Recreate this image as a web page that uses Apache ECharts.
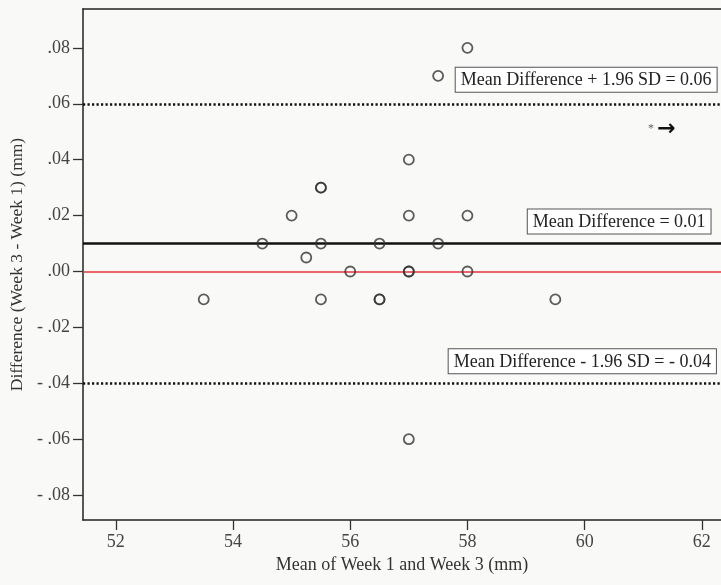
<!DOCTYPE html>
<html>
<head>
<meta charset="utf-8">
<script src="https://cdn.jsdelivr.net/npm/echarts@6/dist/echarts.min.js"></script>
<style>
  html, body { margin: 0; padding: 0; background: #f9f9f8; }
  #chart { width: 721px; height: 585px; }
</style>
</head>
<body>
<div id="chart"></div>
<script>
// Bland-Altman agreement: mean of the two weeks vs. their difference (mm)
const meanOfWeeks = [58, 57.5, 57, 55.5, 55.5, 55, 57, 58, 54.5, 55.5, 56.5, 57.5, 55.25, 56, 57, 57, 58, 53.5, 55.5, 56.5, 56.5, 59.5, 57];
const differences = [0.08, 0.07, 0.04, 0.03, 0.03, 0.02, 0.02, 0.02, 0.01, 0.01, 0.01, 0.01, 0.005, 0, 0, 0, 0, -0.01, -0.01, -0.01, -0.01, -0.01, -0.06];

const meanDifference = 0.01;
const upperLimit = 0.06;
const lowerLimit = -0.04;
const zeroLine = 0;

const xTicks = [52, 54, 56, 58, 60, 62];
const yTicks = [-0.08, -0.06, -0.04, -0.02, 0, 0.02, 0.04, 0.06, 0.08];

const upperText = 'Mean Difference + 1.96 SD = 0.06';
const meanText = 'Mean Difference = 0.01';
const lowerText = 'Mean Difference - 1.96 SD = - 0.04';

const serif = '"Liberation Serif", "DejaVu Serif", serif';
const points = meanOfWeeks.map((m, i) => [m, differences[i]]);

// x range runs past the last tick; the plot is open on the right
const xMin = 51.44, xMax = 62.327;

function yLabel(v) {
  const s = Math.abs(v).toFixed(2).replace(/^0/, '');
  return v < 0 ? '- ' + s : s;
}

const boxLabel = {
  show: true,
  position: [0, 0],
  align: 'left',
  verticalAlign: 'bottom',
  fontFamily: serif,
  fontSize: 18,
  lineHeight: 19,
  color: '#222',
  backgroundColor: '#ffffff',
  borderColor: '#555',
  borderWidth: 1,
  padding: [3, 5, 2, 5]
};

const chart = echarts.init(document.getElementById('chart'));
chart.setOption({
  backgroundColor: '#f9f9f8',
  animation: false,
  grid: { left: 83, top: 9, right: 0, bottom: 65, show: false },
  xAxis: [
    {
      type: 'value',
      min: xMin, max: xMax,
      name: 'Mean of Week 1 and Week 3 (mm)',
      nameLocation: 'middle', nameGap: 35,
      nameTextStyle: { fontFamily: serif, fontSize: 18, color: '#333' },
      axisLine: { show: true, onZero: false, lineStyle: { color: '#222', width: 1.5 } },
      axisTick: { show: true, length: 10, customValues: xTicks, lineStyle: { color: '#333', width: 1.3 } },
      axisLabel: { customValues: xTicks, margin: 13, fontFamily: serif, fontSize: 18, color: '#444' },
      splitLine: { show: false }
    },
    {
      // top frame edge
      type: 'value',
      position: 'top',
      min: xMin, max: xMax,
      axisLine: { show: true, onZero: false, lineStyle: { color: '#222', width: 1.5 } },
      axisTick: { show: false },
      axisLabel: { show: false },
      splitLine: { show: false }
    }
  ],
  yAxis: {
    type: 'value',
    min: -0.0889, max: 0.0939,
    name: 'Difference (Week 3 - Week 1) (mm)',
    nameLocation: 'middle', nameGap: 57, nameRotate: 90,
    nameTextStyle: { fontFamily: serif, fontSize: 17.5, color: '#333' },
    axisLine: { show: true, onZero: false, lineStyle: { color: '#222', width: 1.5 } },
    axisTick: { show: true, length: 10, customValues: yTicks, lineStyle: { color: '#333', width: 1.3 } },
    axisLabel: { customValues: yTicks, margin: 13, fontFamily: serif, fontSize: 18, color: '#444', formatter: yLabel },
    splitLine: { show: false }
  },
  series: [
    {
      name: 'reference lines',
      type: 'scatter',
      data: [],
      silent: true,
      markLine: {
        silent: true,
        symbol: 'none',
        label: { show: false },
        data: [
          { yAxis: zeroLine, lineStyle: { color: '#e5323e', width: 1.6, type: 'solid' } },
          { yAxis: meanDifference, lineStyle: { color: '#111', width: 2.6, type: 'solid' } },
          { yAxis: upperLimit, lineStyle: { color: '#111', width: 2.6, type: [2.2, 2.3] } },
          { yAxis: lowerLimit, lineStyle: { color: '#111', width: 2.6, type: [2.2, 2.3] } }
        ]
      }
    },
    {
      name: 'differences',
      type: 'scatter',
      data: points,
      symbol: 'circle',
      symbolSize: 10,
      itemStyle: { color: 'transparent', borderColor: '#333', borderWidth: 1.8 },
      z: 5
    },
    {
      name: 'line labels',
      type: 'scatter',
      data: [],
      silent: true,
      markPoint: {
        silent: true,
        symbol: 'circle',
        symbolSize: 0,
        data: [
          { coord: [57.8, upperLimit], label: Object.assign({}, boxLabel, { position: [0, -12], formatter: upperText }) },
          { coord: [59.03, meanDifference], label: Object.assign({}, boxLabel, { position: [0, -10], formatter: meanText }) },
          { coord: [57.68, lowerLimit], label: Object.assign({}, boxLabel, { position: [0, -10], formatter: lowerText }) },
          {
            coord: [61.08, 0.051],
            label: {
              show: true, position: [0, 0], align: 'left', verticalAlign: 'middle',
              formatter: '{a|*} {b|→}',
              rich: {
                a: { fontSize: 12, color: '#666', fontFamily: serif },
                b: { fontSize: 22, fontWeight: 'bold', color: '#111', fontFamily: '"DejaVu Sans", sans-serif' }
              }
            }
          }
        ]
      },
      z: 6
    }
  ]
});
</script>
</body>
</html>
